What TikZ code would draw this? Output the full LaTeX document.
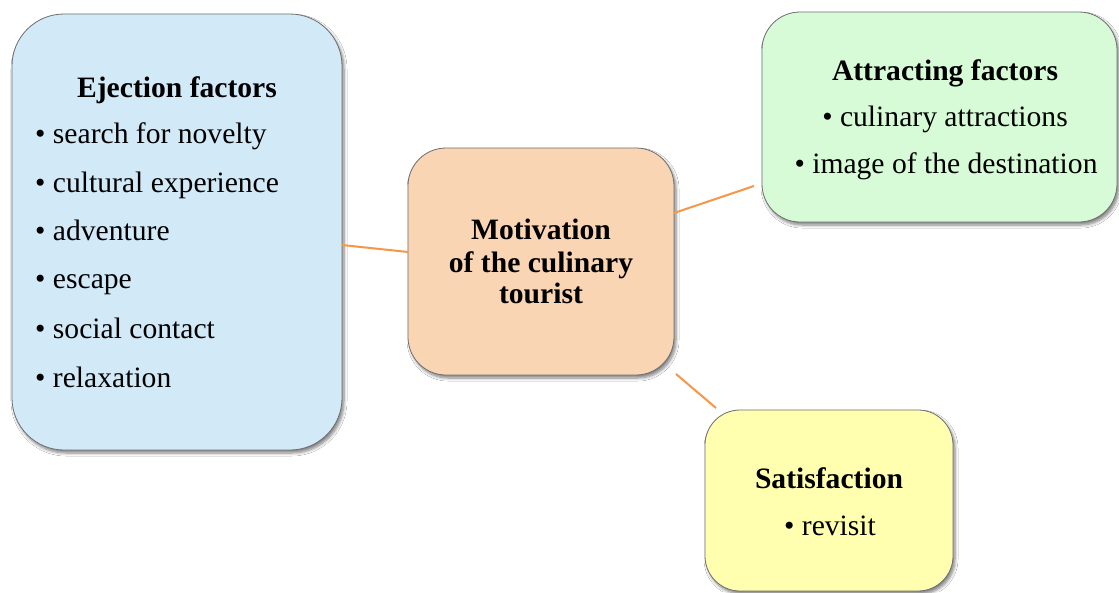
\documentclass[tikz,border=0pt]{standalone}
\usepackage{fontspec}
\setmainfont{Liberation Serif}
\usetikzlibrary{shadows.blur}
\definecolor{ejfill}{HTML}{D2EAF8}
\definecolor{mofill}{HTML}{FAD5B4}
\definecolor{atfill}{HTML}{D7FBD7}
\definecolor{safill}{HTML}{FFFFAF}
\definecolor{boxline}{HTML}{6E6E6E}
\definecolor{linkcol}{HTML}{F79646}
\begin{document}
\begin{tikzpicture}[x=1pt,y=-1pt,
  box/.style={draw=boxline, line width=0.8pt, inner sep=0pt, outer sep=0pt,
    blur shadow={shadow xshift=2pt, shadow yshift=-3pt, shadow opacity=50,
      shadow blur steps=6, shadow blur radius=3pt}},
  txt/.style={inner sep=0pt, font=\fontsize{29.6}{32}\selectfont},
  head/.style={txt, font=\fontsize{29.6}{32}\selectfont\bfseries},
  link/.style={draw=linkcol, line width=2pt}]
\useasboundingbox (0,0) rectangle (1119,592);
\fill[white] (0,0) rectangle (1119,592);

% boxes
\node[box, fill=ejfill, rounded corners=52pt, minimum width=330pt, minimum height=436pt] (ej) at (177,232) {};
\node[box, fill=mofill, rounded corners=38pt, minimum width=266pt, minimum height=227pt] (mo) at (541,261.5) {};
\node[box, fill=atfill, rounded corners=38pt, minimum width=355pt, minimum height=210pt] (at) at (939.5,117) {};
\node[box, fill=safill, rounded corners=35pt, minimum width=248pt, minimum height=181pt] (sa) at (829,500.5) {};

% connectors
\draw[link] ([yshift=-13pt]ej.east) -- ([yshift=9.5pt]mo.west);
\draw[link] ([yshift=48.5pt]mo.east) -- ([xshift=-8pt,yshift=-69pt]at.west);
\draw[link] ([xshift=2pt,yshift=1pt]mo.south east) -- ([xshift=11pt,yshift=2pt]sa.north west);

% ejection factors
\node[head, anchor=base] (ejt) at (177,97) {Ejection factors};
\node[txt, anchor=base west] (ej1) at (35,143) {• search for novelty};
\node[txt, anchor=base west] (ej2) at (35,192) {• cultural experience};
\node[txt, anchor=base west] (ej3) at (35,240) {• adventure};
\node[txt, anchor=base west] (ej4) at (35,288) {• escape};
\node[txt, anchor=base west] (ej5) at (35,338) {• social contact};
\node[txt, anchor=base west] (ej6) at (35,387) {• relaxation};

% motivation
\node[head, anchor=base] (mo1) at (541,239) {Motivation};
\node[head, anchor=base] (mo2) at (541,272) {of the culinary};
\node[head, anchor=base] (mo3) at (541,303) {tourist};

% attracting factors
\node[head, anchor=base] (att) at (945,80) {Attracting factors};
\node[txt, anchor=base] (at1) at (945,126) {• culinary attractions};
\node[txt, anchor=base] (at2) at (946,173) {• image of the destination};

% satisfaction
\node[head, anchor=base] (sat) at (829,488) {Satisfaction};
\node[txt, anchor=base] (sa1) at (830,535) {• revisit};
\end{tikzpicture}
\end{document}
